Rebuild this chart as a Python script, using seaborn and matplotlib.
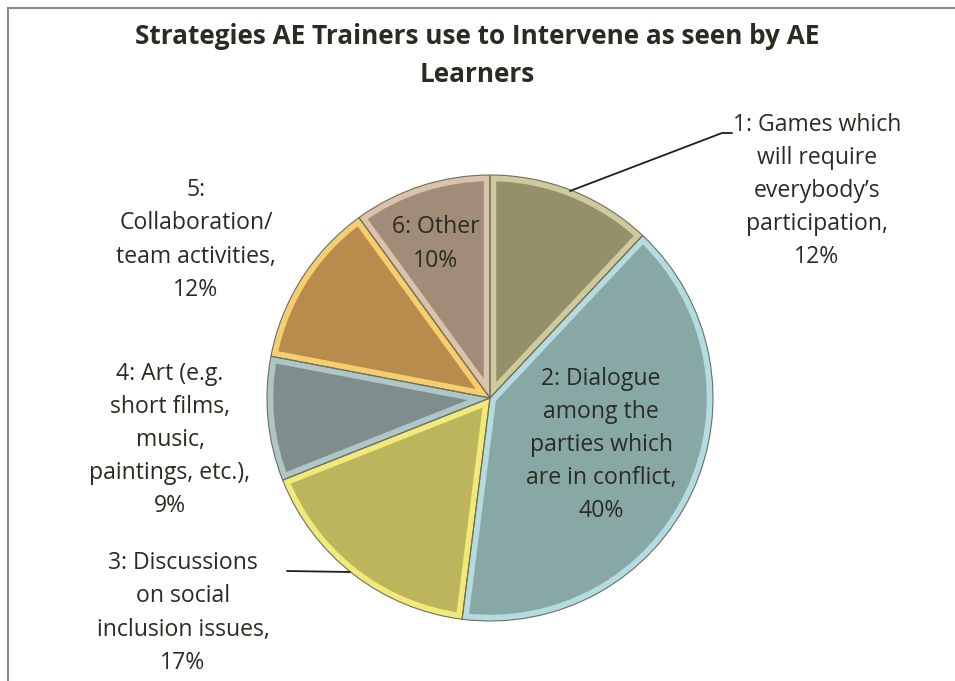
import matplotlib
matplotlib.use("Agg")
import matplotlib.pyplot as plt
import seaborn as sns
import numpy as np

categories = [
    "1: Games which\nwill require\neverybody\u2019s\nparticipation,",
    "2: Dialogue\namong the\nparties which\nare in conflict,",
    "3: Discussions\non social\ninclusion issues,",
    "4: Art (e.g.\nshort films,\nmusic,\npaintings, etc.),",
    "5:\nCollaboration/\nteam activities,",
    "6: Other",
]
values = [12, 40, 17, 9, 12, 10]
fill_colors = ["#958F6A", "#88A8A6", "#BCB55C", "#7F8E8D", "#B88C4C", "#A08C78"]
edge_colors = ["#CFCA9C", "#B4DCE0", "#F2EA78", "#AFC6C6", "#F6CE6E", "#DCC2AA"]
title_lines = ["Strategies AE Trainers use to Intervene as seen by AE", "Learners"]

sns.set_theme(style="white")
plt.rcParams["font.family"] = ["Open Sans", "DejaVu Sans"]

W, H = 955, 681
fig = plt.figure(figsize=(W / 100, H / 100), dpi=100)
ax = fig.add_axes([0, 0, 1, 1])

cx, cy, r = 490, H - 398, 223
wedges, _ = ax.pie(values, colors=fill_colors, startangle=90, counterclock=False,
                   center=(cx, cy), radius=r, frame=True,
                   wedgeprops=dict(linewidth=0))
for w, ec in zip(wedges, edge_colors):
    w.set_edgecolor(ec)
    w.set_linewidth(9)
    w.set_joinstyle("miter")
    w.set_clip_on(True)
    w.set_clip_path(w)
# thin outlines
ax.pie(values, colors=["none"] * len(values), startangle=90, counterclock=False,
       center=(cx, cy), radius=r, frame=True,
       wedgeprops=dict(linewidth=0.8, edgecolor="#6f6f60", fill=False))
ax.set_xlim(0, W)
ax.set_ylim(0, H)
ax.set_aspect("equal")
ax.axis("off")

tc = "#2b2b22"
fs = 16.6
def lab(i, x, y):
    ax.text(x, H - y, f"{categories[i]}\n{values[i]}%", ha="center", va="center",
            fontsize=fs, color=tc, linespacing=1.51)

lab(0, 817, 191)
lab(1, 601, 445)
lab(2, 183, 613)
lab(3, 170, 440)
lab(4, 196, 240)
lab(5, 436, 244)

# leader lines
ax.plot([570, 722, 732], [H - 191, H - 133, H - 133], color="#1e1e1e", lw=1.3)
ax.plot([287, 350], [H - 571, H - 572], color="#1e1e1e", lw=1.3)

# title
for line, yb in zip(title_lines, [44, 82]):
    fig.text(0.5, 1 - yb / H, line, ha="center", va="baseline", fontsize=18.8,
             fontweight="bold", color=tc)

# frame
ax.plot([8, W], [H - 8, H - 8], color="#8a8a8a", lw=1.5, clip_on=False)
ax.plot([8, 8], [H - 8, 0], color="#8a8a8a", lw=1.5, clip_on=False)

fig.savefig("out.png", dpi=100, facecolor="white")
